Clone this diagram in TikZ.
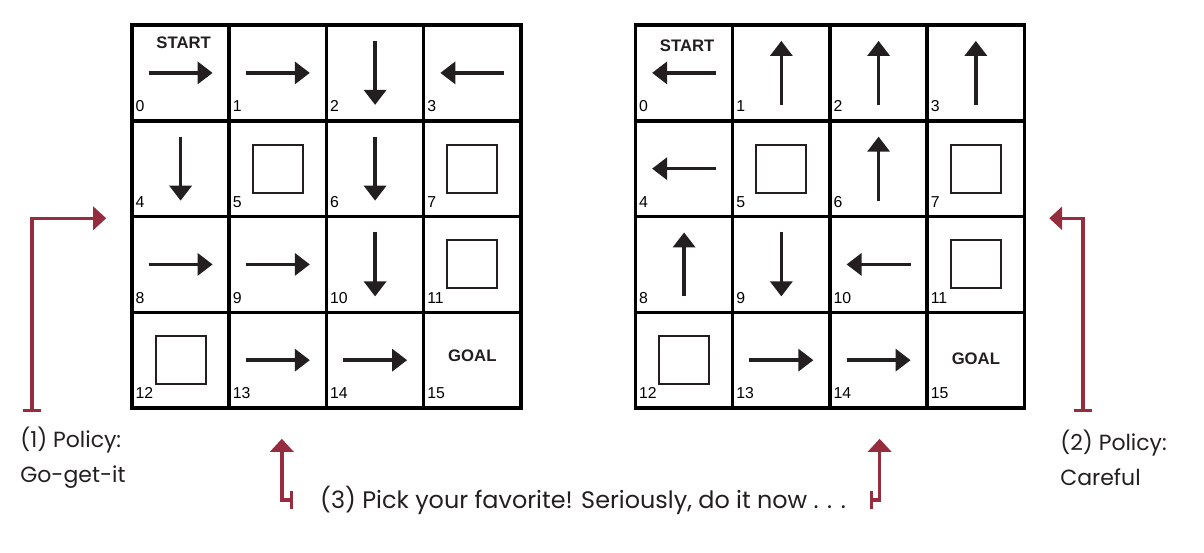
\documentclass[tikz,border=0pt]{standalone}
\usepackage{fontspec}
\setmainfont{Liberation Sans}
\newfontfamily\handfont{Poppins}
\usetikzlibrary{arrows.meta,positioning,calc}
\definecolor{ink}{HTML}{231F20}
\definecolor{wine}{HTML}{962D3E}

\begin{document}
\begin{tikzpicture}[x=0.02cm,y=-0.02cm,
  cell/.style={draw=black,line width=2pt,minimum width=1.945cm,minimum height=1.915cm,inner sep=0pt},
  wall/.style={draw=ink,line width=1.1pt,minimum width=1cm,minimum height=0.96cm,inner sep=0pt},
  num/.style={font=\fontsize{9}{10}\selectfont,inner sep=0pt,anchor=base west},
  tag/.style={font=\fontsize{9.5}{10}\selectfont\bfseries,text=ink,inner sep=0pt},
  move/.style={draw=ink,line width=1.9pt,-{Triangle[width=0.44cm,length=0.3cm]}},
  link/.style={draw=wine,line width=1.9pt,{Bar[width=0.36cm]}-{Triangle[width=0.46cm,length=0.26cm]}},
  hand/.style={font=\handfont\fontsize{12.5}{20}\selectfont,text=ink,inner sep=0pt}]
  \useasboundingbox (0,0) rectangle (1204,552);

  % two 4x4 grids
  \foreach \i in {0,...,15}{
    \pgfmathtruncatemacro\c{mod(\i,4)}
    \pgfmathtruncatemacro\r{\i/4}
    \node[cell] (L\i) at ({180.6+97.25*\c},{72.9+95.75*\r}) {};
    \node[cell] (R\i) at ({684.1+97.25*\c},{72.9+95.75*\r}) {};
  }
  \foreach \i in {0,...,15}{
    \node[num] at ($(L\i.south west)+(5,-11)$) {\i};
    \node[num] at ($(R\i.south west)+(5,-11)$) {\i};
  }

  % walls, start and goal
  \foreach \n in {5,7,11,12}{
    \node[wall] at (L\n) {};
    \node[wall] at (R\n) {};
  }
  \node[tag] at ($(L0.north)+(3,19)$) {START};
  \node[tag] at ($(R0.north)+(3,22)$) {START};
  \node[tag] at ($(L15.center)+(0,-4)$) {GOAL};
  \node[tag] at ($(R15.center)+(0,-1)$) {GOAL};

  % policy arrows (0 right, 90 down, 180 left, 270 up)
  \foreach \n/\a in {0/0,1/0,2/90,3/180,4/90,6/90,8/0,9/0,10/90,13/0,14/0}
    \draw[move] ([shift={(\a+180:32)}]L\n.center) -- ([shift={(\a:32)}]L\n.center);
  \foreach \n/\a in {0/180,1/270,2/270,3/270,4/180,6/270,8/270,9/90,10/180,13/0,14/0}
    \draw[move] ([shift={(\a+180:32)}]R\n.center) -- ([shift={(\a:32)}]R\n.center);

  % notes
  \node[hand,anchor=west,align=left] (pol1) at (20,458) {(1) Policy:\\Go-get-it};
  \node[hand,anchor=west,align=left] (pol2) at (1060,458) {(2) Policy:\\Careful};
  \node[hand,font=\handfont\fontsize{13.6}{20}\selectfont] (pick) at (583,500) {(3) Pick your favorite! Seriously, do it now . . .};

  \coordinate (bar1) at (32,412);
  \coordinate (bar2) at (1083,412);
  \coordinate (bar3) at (293,500);
  \coordinate (bar4) at (870,500);
  \draw[link] (bar1) |- ($(L4.south west)+(-24,0)$);
  \draw[link] (bar2) |- ($(R7.south east)+(23,0)$);
  \draw[link] (bar3) -| ($(L13.south)+(4,29)$);
  \draw[link] (bar4) -| ($(R14.south)+(1,29)$);
\end{tikzpicture}
\end{document}
